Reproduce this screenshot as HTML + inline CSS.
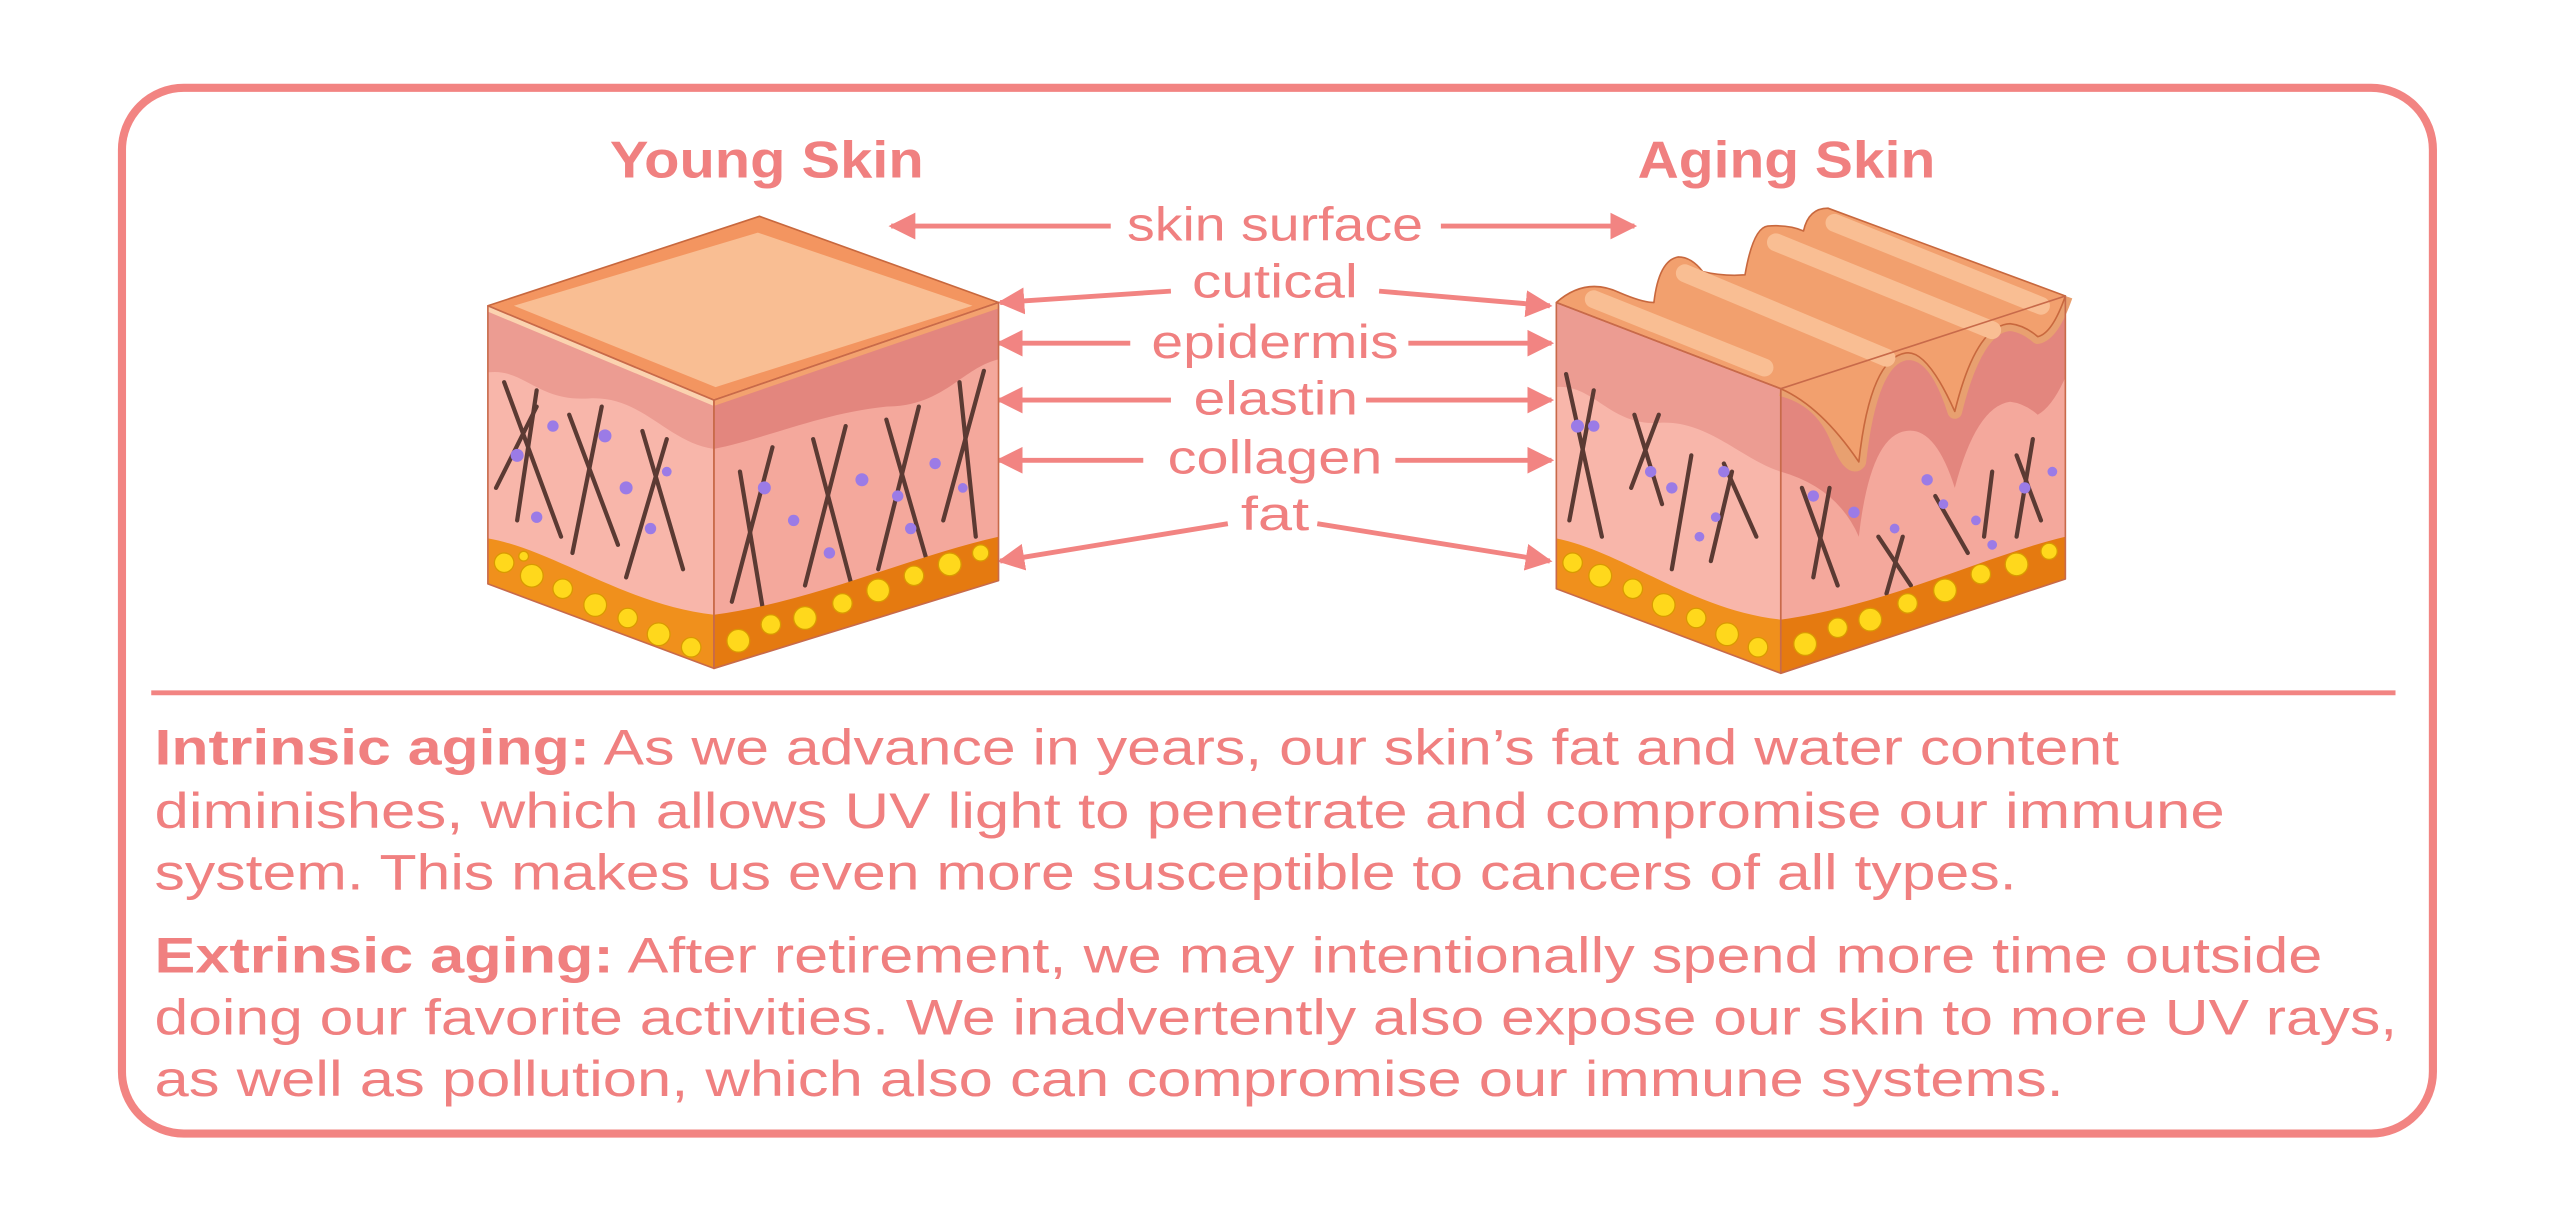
<!DOCTYPE html>
<html><head><meta charset="utf-8"><style>
html,body{margin:0;padding:0;background:#fff;}
svg{display:block;}
text{font-family:"Liberation Sans",sans-serif;fill:#F08080;}
</style></head><body>
<svg width="2550" height="1223" viewBox="0 0 1568 752" xmlns="http://www.w3.org/2000/svg">
<rect x="75" y="54" width="1421" height="643" rx="38" fill="#fff" stroke="#F28482" stroke-width="5"/>
<line x1="93" y1="426" x2="1473" y2="426" stroke="#F28482" stroke-width="3"/>

<text x="375" y="109" font-size="32" font-weight="bold" textLength="193" lengthAdjust="spacingAndGlyphs">Young Skin</text>
<text x="1007" y="109" font-size="32" font-weight="bold" textLength="183" lengthAdjust="spacingAndGlyphs">Aging Skin</text>

<g font-size="29">
<text x="693" y="148" textLength="182" lengthAdjust="spacingAndGlyphs">skin surface</text>
<text x="733" y="183" textLength="102" lengthAdjust="spacingAndGlyphs">cutical</text>
<text x="708" y="220" textLength="152" lengthAdjust="spacingAndGlyphs">epidermis</text>
<text x="734" y="255" textLength="101" lengthAdjust="spacingAndGlyphs">elastin</text>
<text x="718" y="291" textLength="132" lengthAdjust="spacingAndGlyphs">collagen</text>
<text x="763" y="326" textLength="42" lengthAdjust="spacingAndGlyphs">fat</text>
</g>
<defs><marker id="ah" viewBox="0 0 10 10" refX="9" refY="5" markerWidth="5.5" markerHeight="5.5" orient="auto-start-reverse" markerUnits="strokeWidth"><path d="M0,0 L10,5 L0,10 Z" fill="#F28482"/></marker></defs>
<g stroke="#F28482" stroke-width="3" fill="none" marker-end="url(#ah)">
<line x1="683" y1="139" x2="548" y2="139"/>
<line x1="886" y1="139" x2="1005" y2="139"/>
<line x1="720" y1="179" x2="615" y2="186"/>
<line x1="848" y1="179" x2="953" y2="188"/>
<line x1="695" y1="211" x2="614" y2="211"/>
<line x1="866" y1="211" x2="954" y2="211"/>
<line x1="720" y1="246" x2="614" y2="246"/>
<line x1="840" y1="246" x2="954" y2="246"/>
<line x1="703" y1="283" x2="614" y2="283"/>
<line x1="858" y1="283" x2="954" y2="283"/>
<line x1="755" y1="322" x2="615" y2="345"/>
<line x1="810" y1="322" x2="953" y2="345"/>
</g>

<!-- Young cube -->
<g stroke-linejoin="round">
<polygon points="300,188 439,246 439,411 300,359" fill="#F8B6AA"/>
<polygon points="439,246 614,186 614,357 439,411" fill="#F4A89C"/>
<path d="M300,188 L439,246 L439,276 C410,272 395,243 362,245 C330,247 322,226 300,229 Z" fill="#EC9C92"/>
<path d="M439,246 L614,186 L614,221 C592,226 580,250 545,250 C505,254 470,270 439,276 Z" fill="#E3867E"/>
<g stroke="#5B3A33" stroke-width="2.6" fill="none" stroke-linecap="round">
<path d="M310,235 L345,330"/><path d="M330,240 L318,320"/><path d="M350,255 L380,335"/><path d="M370,250 L352,340"/><path d="M395,265 L420,350"/><path d="M410,270 L385,355"/><path d="M305,300 L330,250"/>
<path d="M455,290 L470,380"/><path d="M475,275 L450,370"/><path d="M500,270 L525,365"/><path d="M520,262 L495,360"/><path d="M545,258 L570,345"/><path d="M565,250 L540,350"/><path d="M590,235 L600,330"/><path d="M605,228 L580,320"/>
</g>
<g fill="#9B7BE6">
<circle cx="318" cy="280" r="4"/><circle cx="340" cy="262" r="3.5"/><circle cx="372" cy="268" r="4"/><circle cx="385" cy="300" r="4"/><circle cx="330" cy="318" r="3.5"/><circle cx="400" cy="325" r="3.5"/><circle cx="410" cy="290" r="3"/>
<circle cx="470" cy="300" r="4"/><circle cx="488" cy="320" r="3.5"/><circle cx="530" cy="295" r="4"/><circle cx="552" cy="305" r="3.5"/><circle cx="575" cy="285" r="3.5"/><circle cx="592" cy="300" r="3"/><circle cx="510" cy="340" r="3.5"/><circle cx="560" cy="325" r="3.5"/>
</g>
<path d="M300,331 C340,338 385,372 439,378 L439,411 L300,359 Z" fill="#F0901C"/>
<path d="M439,378 C500,370 560,342 614,330 L614,357 L439,411 Z" fill="#E57A10"/>
<g fill="#FFD81C" stroke="#D99A00" stroke-width="0.8">
<circle cx="310" cy="346" r="6"/><circle cx="327" cy="354" r="7"/><circle cx="346" cy="362" r="6"/><circle cx="366" cy="372" r="7"/><circle cx="386" cy="380" r="6"/><circle cx="405" cy="390" r="7"/><circle cx="425" cy="398" r="6"/><circle cx="322" cy="342" r="3"/>
<circle cx="454" cy="394" r="7"/><circle cx="474" cy="384" r="6"/><circle cx="495" cy="380" r="7"/><circle cx="518" cy="371" r="6"/><circle cx="540" cy="363" r="7"/><circle cx="562" cy="354" r="6"/><circle cx="584" cy="347" r="7"/><circle cx="603" cy="340" r="5"/>
</g>
<polygon points="467,133 614,186 439,246 300,188" fill="#F39560" stroke="#C8683E" stroke-width="1"/>
<polygon points="466,143 598,188 440,238 316,188" fill="#F9BE93"/>
<line x1="300" y1="190" x2="439" y2="248" stroke="#FBD3B0" stroke-width="3"/>
<line x1="439" y1="248" x2="614" y2="188" stroke="#F3A26F" stroke-width="3"/>
<polygon points="300,188 439,246 439,411 300,359" fill="none" stroke="#C86A4A" stroke-width="1"/>
<polygon points="439,246 614,186 614,357 439,411" fill="none" stroke="#C86A4A" stroke-width="1"/>
</g>

<!-- Aging cube -->
<g stroke-linejoin="round">
<polygon points="957,186 1095,239 1095,414 957,362" fill="#F8B6AA"/>
<polygon points="1095,239 1270,182 1270,356 1095,414" fill="#F4A89C"/>
<path d="M957,186 L1095,239 L1095,290 C1070,282 1050,258 1020,260 C990,262 980,236 957,238 Z" fill="#EC9C92"/>
<path d="M1095,239 Q1120,245 1130,270 Q1138,290 1143,284 Q1150,220 1172,217 Q1190,215 1202,253 Q1215,200 1236,199 Q1245,200 1253,207 Q1262,205 1270,182 L1270,232 Q1262,250 1253,255 Q1245,248 1236,247 Q1215,250 1202,300 Q1190,262 1172,265 Q1150,268 1143,330 Q1130,300 1095,290 Z" fill="#E3867E"/>
<path d="M1095,239 Q1120,245 1130,270 Q1138,290 1143,284 Q1150,220 1172,217 Q1190,215 1202,253 Q1215,200 1236,199 Q1245,200 1253,207 Q1262,205 1270,182" fill="none" stroke="#E8A070" stroke-width="9"/>
<g stroke="#5B3A33" stroke-width="2.6" fill="none" stroke-linecap="round">
<path d="M963,230 L985,330"/><path d="M980,240 L965,320"/><path d="M1005,255 L1022,310"/><path d="M1020,255 L1003,300"/><path d="M1040,280 L1028,350"/><path d="M1060,285 L1080,330"/><path d="M1065,290 L1052,345"/>
<path d="M1108,300 L1130,360"/><path d="M1125,300 L1115,355"/><path d="M1155,330 L1175,360"/><path d="M1170,330 L1160,365"/><path d="M1190,305 L1210,340"/><path d="M1240,280 L1255,320"/><path d="M1250,270 L1240,330"/><path d="M1225,290 L1220,330"/>
</g>
<g fill="#9B7BE6">
<circle cx="970" cy="262" r="4"/><circle cx="980" cy="262" r="3.5"/><circle cx="1015" cy="290" r="3.5"/><circle cx="1028" cy="300" r="3.5"/><circle cx="1060" cy="290" r="3.5"/><circle cx="1055" cy="318" r="3"/><circle cx="1045" cy="330" r="3"/>
<circle cx="1115" cy="305" r="3.5"/><circle cx="1140" cy="315" r="3.5"/><circle cx="1185" cy="295" r="3.5"/><circle cx="1195" cy="310" r="3"/><circle cx="1215" cy="320" r="3"/><circle cx="1245" cy="300" r="3.5"/><circle cx="1262" cy="290" r="3"/><circle cx="1165" cy="325" r="3"/><circle cx="1225" cy="335" r="3"/>
</g>
<path d="M957,331 C1000,340 1040,375 1095,381 L1095,414 L957,362 Z" fill="#F0901C"/>
<path d="M1095,381 C1160,372 1220,342 1270,330 L1270,356 L1095,414 Z" fill="#E57A10"/>
<g fill="#FFD81C" stroke="#D99A00" stroke-width="0.8">
<circle cx="967" cy="346" r="6"/><circle cx="984" cy="354" r="7"/><circle cx="1004" cy="362" r="6"/><circle cx="1023" cy="372" r="7"/><circle cx="1043" cy="380" r="6"/><circle cx="1062" cy="390" r="7"/><circle cx="1081" cy="398" r="6"/>
<circle cx="1110" cy="396" r="7"/><circle cx="1130" cy="386" r="6"/><circle cx="1150" cy="381" r="7"/><circle cx="1173" cy="371" r="6"/><circle cx="1196" cy="363" r="7"/><circle cx="1218" cy="353" r="6"/><circle cx="1240" cy="347" r="7"/><circle cx="1260" cy="339" r="5"/>
</g>
<path d="M957,186 Q975,170 996,180 Q1010,186 1017,186 Q1020,160 1032,158 Q1040,158 1047,167 Q1060,170 1073,169 Q1078,140 1087,139 Q1100,138 1109,142 Q1112,128 1124,128 L1270,182 Q1262,205 1253,207 Q1245,200 1236,199 Q1215,200 1202,253 Q1185,215 1172,217 Q1150,220 1143,284 Q1120,250 1095,239 Z" fill="#F2A06E" stroke="#C8683E" stroke-width="1"/>
<g stroke="#F9BE93" stroke-width="11" stroke-linecap="round" fill="none">
<line x1="980" y1="184" x2="1085" y2="226"/>
<line x1="1036" y1="168" x2="1160" y2="220"/>
<line x1="1092" y1="149" x2="1225" y2="203"/>
<line x1="1128" y1="137" x2="1255" y2="188"/>
</g>
<polygon points="957,186 1095,239 1095,414 957,362" fill="none" stroke="#C86A4A" stroke-width="1"/>
<polygon points="1095,239 1270,182 1270,356 1095,414" fill="none" stroke="#C86A4A" stroke-width="1"/>
</g>

<g font-size="31">
<text x="95" y="470" textLength="1208" lengthAdjust="spacingAndGlyphs"><tspan font-weight="bold">Intrinsic aging:</tspan> As we advance in years, our skin’s fat and water content</text>
<text x="95" y="509" textLength="1273" lengthAdjust="spacingAndGlyphs">diminishes, which allows UV light to penetrate and compromise our immune</text>
<text x="95" y="547" textLength="1145" lengthAdjust="spacingAndGlyphs">system. This makes us even more susceptible to cancers of all types.</text>
<text x="95" y="598" textLength="1333" lengthAdjust="spacingAndGlyphs"><tspan font-weight="bold">Extrinsic aging:</tspan> After retirement, we may intentionally spend more time outside</text>
<text x="95" y="636" textLength="1379" lengthAdjust="spacingAndGlyphs">doing our favorite activities. We inadvertently also expose our skin to more UV rays,</text>
<text x="95" y="674" textLength="1174" lengthAdjust="spacingAndGlyphs">as well as pollution, which also can compromise our immune systems.</text>
</g>
</svg>
</body></html>
